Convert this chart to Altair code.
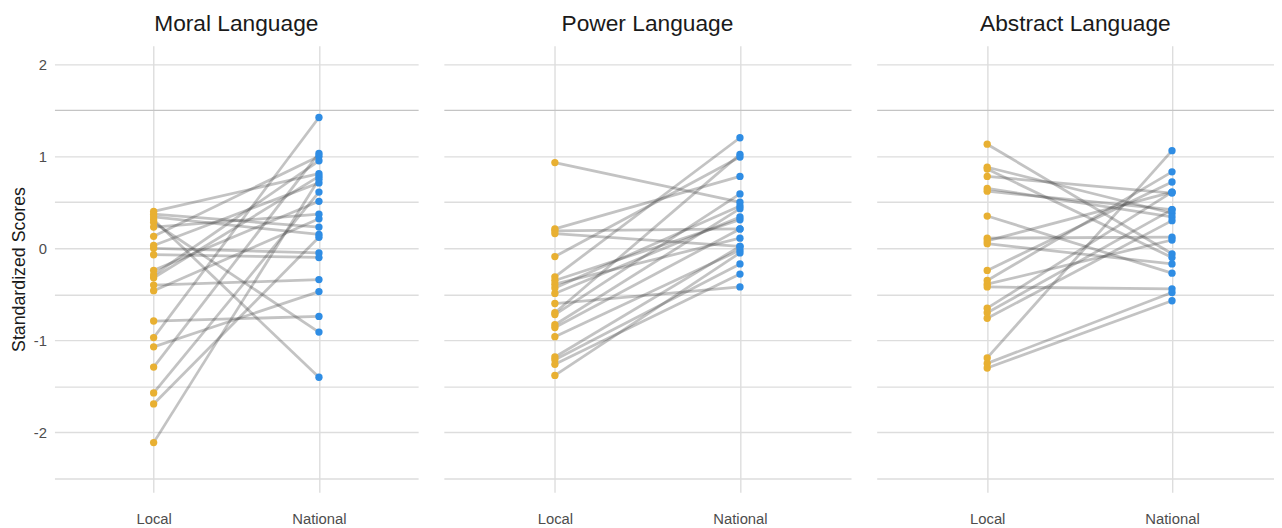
import altair as alt
import pandas as pd

FONT = "Liberation Sans"

panels = ["Moral Language", "Power Language", "Abstract Language"]
groups = ["Local", "National"]

local_moral = [0.40, 0.37, 0.34, 0.31, 0.28, 0.23, 0.13, 0.03, 0.00, -0.07, -0.24,
               -0.29, -0.32, -0.40, -0.46, -0.79, -0.97, -1.07, -1.29, -1.57, -1.69, -2.11]
national_moral = [0.81, 0.23, 0.15, -1.40, -0.91, 0.37, 1.00, 0.71, -0.05, -0.10, 0.51,
                  0.95, 0.78, -0.34, 0.32, -0.74, 1.42, -0.47, 1.03, 0.61, 0.12, 0.75]

local_power = [0.93, 0.21, 0.19, 0.16, -0.09, -0.31, -0.35, -0.39, -0.43, -0.49,
               -0.60, -0.70, -0.72, -0.83, -0.86, -0.96, -1.18, -1.21, -1.26, -1.38]
national_power = [0.50, 0.78, 0.21, 0.02, 0.99, 1.20, 0.31, 0.11, 0.46, 0.34,
                  -0.42, 1.02, 0.59, 0.43, 0.21, -0.02, 0.02, -0.17, -0.28, -0.05]

local_abstract = [1.13, 0.88, 0.86, 0.78, 0.65, 0.62, 0.35, 0.11, 0.08, 0.05,
                  -0.24, -0.35, -0.39, -0.42, -0.65, -0.70, -0.76, -1.19, -1.25, -1.30]
national_abstract = [-0.06, 0.38, -0.10, 0.60, 0.34, 0.42, -0.27, 0.12, 0.61, -0.17,
                     0.72, 0.83, 0.09, -0.44, 0.61, 0.42, 0.30, 1.06, -0.48, -0.57]

y_ticks = [-2.5, -2, -1.5, -1, -0.5, 0, 0.5, 1, 1.5, 2]
y_domain = [-2.65, 2.2]
point_colors = ["#E8B032", "#2F8DE4"]


def long_table(local, national):
    rows = []
    for i, (a, b) in enumerate(zip(local, national)):
        rows.append({"id": i, "group": groups[0], "value": a})
        rows.append({"id": i, "group": groups[1], "value": b})
    return pd.DataFrame(rows)


grid_color = {"condition": {"test": "datum.value == 1.5", "value": "#c4c4c4"},
              "value": "#dddddd"}


def panel(title, local, national, width, padding, align, first):
    df = long_table(local, national)
    x = alt.X(
        "group:N",
        scale=alt.Scale(type="point", domain=groups, padding=padding, align=align),
        axis=alt.Axis(title=None, labelAngle=0, ticks=False, domain=False, grid=True,
                      gridColor="#dddddd", gridWidth=1.4, labelFont=FONT,
                      labelFontSize=15, labelColor="#4d4d4d", labelPadding=20),
    )
    y = alt.Y(
        "value:Q",
        scale=alt.Scale(domain=y_domain, nice=False, zero=False),
        axis=alt.Axis(values=y_ticks,
                      labelExpr="datum.value % 1 == 0 ? '' + datum.value : ''",
                      title="Standardized Scores" if first else None,
                      labels=first, ticks=False, domain=False, grid=True,
                      gridColor=grid_color, gridWidth=1.4,
                      labelFont=FONT, labelFontSize=15, labelColor="#4d4d4d",
                      labelPadding=8, titleFont=FONT, titleFontSize=18,
                      titleFontWeight="normal", titleColor="#1a1a1a", titlePadding=5),
    )
    lines = alt.Chart(df).mark_line(color="#454545", opacity=0.32, strokeWidth=2.8).encode(
        x=x, y=y, detail="id:N")
    points = alt.Chart(df).mark_circle(size=55, opacity=1).encode(
        x=x, y=y,
        color=alt.Color("group:N", scale=alt.Scale(domain=groups, range=point_colors),
                        legend=None))
    return alt.layer(lines, points).properties(
        width=width, height=452,
        title=alt.TitleParams(title, font=FONT, fontSize=23, fontWeight="normal",
                              color="#1a1a1a", anchor="middle", baseline="alphabetic",
                              offset=-8),
    )


p1 = panel(panels[0], local_moral, national_moral, 368, 0.60, 0.5, True)
p2 = panel(panels[1], local_power, national_power, 412, 0.60, 0.5, False)
p3 = panel(panels[2], local_abstract, national_abstract, 402, 0.575, 0.52, False)

chart = alt.hconcat(p1, p2, p3, spacing=26).resolve_scale(
    x="independent", y="independent"
).properties(
    padding={"left": 2, "top": 2, "right": 0, "bottom": 0}
).configure_view(stroke=None)

chart.save("out.html", embed_options={"renderer": "svg", "actions": False})
